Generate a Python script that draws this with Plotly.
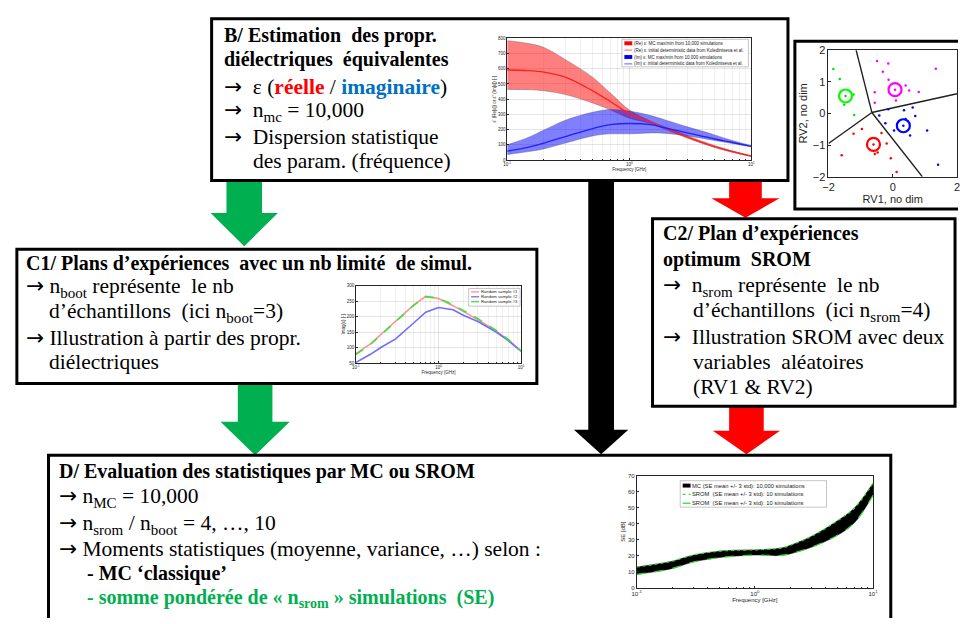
import plotly.graph_objects as go

W, H = 963, 624

# ---------------- data: inset B (equivalent dielectric properties) ----------------
freq_b = [0.1, 0.15, 0.2, 0.3, 0.5, 0.7, 1.0, 1.5, 2, 3, 5, 7, 10]
re_upper = [785, 766, 740, 660, 545, 440, 329, 255, 215, 160, 95, 60, 28]
re_mean = [592, 588, 578, 545, 455, 385, 305, 250, 207, 150, 88, 55, 26]
re_lower = [464, 462, 455, 430, 375, 330, 275, 240, 200, 143, 82, 50, 22]
im_upper = [100, 150, 197, 262, 314, 332, 322, 292, 262, 218, 165, 128, 94]
im_mean = [58, 85, 111, 154, 207, 232, 240, 232, 210, 178, 138, 115, 90]
im_lower = [36, 55, 73, 111, 158, 172, 172, 178, 175, 158, 128, 108, 86]
legend_b = ["(Re) ε: MC max/min from 10,000 simulations",
            "(Re) ε: initial deterministic data from Koledintseva et al.",
            "(Im) ε: MC max/min from 10,000 simulations",
            "(Im) ε: initial deterministic data from Koledintseva et al."]

# ---------------- data: inset C1 (random samples) ----------------
freq_c1 = [0.1, 0.15, 0.2, 0.3, 0.5, 0.7, 1.0, 1.5, 2, 3, 5, 7, 10]
sample1 = [80, 112, 142, 184, 237, 265, 258, 235, 216, 190, 153, 125, 88]
sample2 = [52, 78, 100, 127, 179, 214, 229, 222, 204, 184, 150, 122, 88]
sample3 = [77, 110, 140, 183, 236, 264, 259, 238, 220, 193, 155, 126, 88]
legend_c1 = ["Random sample #1", "Random sample #2", "Random sample #3"]

# ---------------- data: inset C2 (SROM, two random variables) ----------------
green_x = [-1.85, -1.65, -1.22, -1.51, -1.20, -1.47]
green_y = [1.40, 1.09, 0.60, 0.27, -0.05, 0.55]
magenta_x = [-0.49, -0.14, -0.31, -0.13, -0.56, -0.56, 0.10, 0.40, 0.51, 0.81, 1.34, 0.07]
magenta_y = [1.66, 1.58, 1.32, 1.06, 0.67, 0.34, 0.41, 0.88, 0.72, 0.68, 1.41, 0.75]
blue_x = [-0.42, -0.14, -0.23, 0.35, 0.62, 0.70, 0.40, 0.54, 0.04, 1.07, 1.41, 0.33]
blue_y = [-0.07, 0.13, -0.31, 0.10, 0.19, -0.08, -0.18, -0.70, -0.54, -0.54, -1.62, -0.39]
red_x = [-1.22, -0.96, -0.35, -0.19, -1.59, -0.47, -0.56, -0.06, 0.12, -0.60]
red_y = [-0.64, -0.49, -0.62, -0.95, -1.32, -1.24, -1.28, -1.42, -1.85, -0.98]
centers_x = [-1.47, 0.07, 0.33, -0.60]
centers_y = [0.55, 0.75, -0.39, -0.98]
centers_col = ["#00FF00", "#FF00FF", "#0000FF", "#FF0000"]
voronoi_x = [-0.65, -1.14, None, -0.65, 2.0, None, -0.65, 0.92, None, -0.65, -2.0]
voronoi_y = [0.03, 2.0, None, 0.03, 0.62, None, 0.03, -2.0, None, 0.03, -0.95]

# ---------------- data: inset D (shielding effectiveness) ----------------
freq_d = [0.1, 0.15, 0.2, 0.3, 0.5, 0.7, 1.0, 1.3, 1.5, 1.8, 2, 3, 5, 7, 10]
se_upper = [12.9, 14.8, 16.5, 20.3, 22.8, 23.4, 23.6, 24.0, 24.3, 25.3, 26.5, 32.0, 41.8, 50.0, 65.3]
se_lower = [8.3, 10.2, 12.0, 16.0, 18.8, 19.8, 20.4, 20.2, 20.0, 20.5, 21.2, 25.2, 32.8, 40.8, 57.8]
legend_d = ["MC (SE mean +/- 3 std): 10,000 simulations",
            "SROM  (SE mean +/- 3 std): 10 simulations",
            "SROM  (SE mean +/- 3 std): 10 simulations"]

decade_vals = [0.1, 1, 10]
decade_text = ["10<sup>-1</sup>", "10<sup>0</sup>", "10<sup>1</sup>"]
minor_vals = [0.2, 0.3, 0.4, 0.5, 0.6, 0.7, 0.8, 0.9, 2, 3, 4, 5, 6, 7, 8, 9]

SERIF = "Liberation Serif, Times New Roman, Tinos, serif"
SANS = "Liberation Sans, Arial, sans-serif"
GREEN = "#00B050"
ARR = "<span style='font-family:DejaVu Sans'>→</span>"


def xdom(a, b):
    return [a / W, b / W]


def ydom(top, bottom):
    return [1 - bottom / H, 1 - top / H]


fig = go.Figure()

# ---- inset B traces ----
band_edge = dict(color="rgba(80,80,80,0.7)", width=0.5)
fig.add_trace(go.Scatter(x=freq_b, y=re_lower, mode="lines", line=dict(shape="spline", **band_edge),
                         xaxis="x2", yaxis="y2", showlegend=False))
fig.add_trace(go.Scatter(x=freq_b, y=re_upper, mode="lines", line=dict(shape="spline", **band_edge),
                         fill="tonexty", fillcolor="rgba(255,0,0,0.5)", xaxis="x2", yaxis="y2", showlegend=False))
fig.add_trace(go.Scatter(x=freq_b, y=im_lower, mode="lines", line=dict(shape="spline", **band_edge),
                         xaxis="x2", yaxis="y2", showlegend=False))
fig.add_trace(go.Scatter(x=freq_b, y=im_upper, mode="lines", line=dict(shape="spline", **band_edge),
                         fill="tonexty", fillcolor="rgba(0,0,255,0.5)", xaxis="x2", yaxis="y2", showlegend=False))
fig.add_trace(go.Scatter(x=freq_b, y=re_mean, mode="lines", line=dict(shape="spline", color="#FF2020", width=1.3),
                         xaxis="x2", yaxis="y2", showlegend=False))
fig.add_trace(go.Scatter(x=freq_b, y=im_mean, mode="lines", line=dict(shape="spline", color="#2020FF", width=1.3),
                         xaxis="x2", yaxis="y2", showlegend=False))

# ---- inset C1 traces ----
fig.add_trace(go.Scatter(x=freq_c1, y=sample1, mode="lines", line=dict(color="#FF9090", width=1.6),
                         xaxis="x4", yaxis="y4", showlegend=False))
fig.add_trace(go.Scatter(x=freq_c1, y=sample2, mode="lines", line=dict(color="#6E6EFF", width=1.6),
                         xaxis="x4", yaxis="y4", showlegend=False))
fig.add_trace(go.Scatter(x=freq_c1, y=sample3, mode="lines", line=dict(color="#40E040", width=1.6, dash="dash"),
                         xaxis="x4", yaxis="y4", showlegend=False))

# ---- inset C2 traces ----
fig.add_trace(go.Scatter(x=voronoi_x, y=voronoi_y, mode="lines", line=dict(color="#202020", width=1.4),
                         xaxis="x3", yaxis="y3", showlegend=False))
for xs, ys, col in [(green_x, green_y, "#00E000"), (magenta_x, magenta_y, "#FF00FF"),
                    (blue_x, blue_y, "#0000FF"), (red_x, red_y, "#FF0000")]:
    fig.add_trace(go.Scatter(x=xs, y=ys, mode="markers", marker=dict(color=col, size=2.5),
                             xaxis="x3", yaxis="y3", showlegend=False))
fig.add_trace(go.Scatter(x=centers_x, y=centers_y, mode="markers",
                         marker=dict(symbol="circle-open", size=13, color=centers_col, line=dict(width=2.2)),
                         xaxis="x3", yaxis="y3", showlegend=False))

# ---- inset D traces ----
fig.add_trace(go.Scatter(x=freq_d, y=se_lower, mode="lines", line=dict(shape="spline", color="black", width=0.5),
                         xaxis="x5", yaxis="y5", showlegend=False))
fig.add_trace(go.Scatter(x=freq_d, y=se_upper, mode="lines", line=dict(shape="spline", color="black", width=0.5),
                         fill="tonexty", fillcolor="black", xaxis="x5", yaxis="y5", showlegend=False))
fig.add_trace(go.Scatter(x=freq_d, y=se_upper, mode="lines",
                         line=dict(shape="spline", color="#30E030", width=1.2, dash="dot"),
                         xaxis="x5", yaxis="y5", showlegend=False))
fig.add_trace(go.Scatter(x=freq_d, y=se_lower, mode="lines",
                         line=dict(shape="spline", color="#30E030", width=1.2, dash="dash"),
                         xaxis="x5", yaxis="y5", showlegend=False))

# ---------------- diagram shapes (pixel coordinates on the hidden main axes) ----------------
shapes = []


def arrow(xc, ytop, yhead, ytip, shaft, head, color):
    p = (f"M {xc-shaft},{ytop} L {xc+shaft},{ytop} L {xc+shaft},{yhead} L {xc+head},{yhead} "
         f"L {xc},{ytip} L {xc-head},{yhead} L {xc-shaft},{yhead} Z")
    shapes.append(dict(type="path", path=p, xref="x", yref="y", fillcolor=color,
                       line=dict(width=0), layer="below"))


arrow(241, 178, 211, 245, 18, 34, GREEN)
arrow(252, 385, 424, 458, 17.5, 35, GREEN)
arrow(602, 178, 432, 457, 13, 27.5, "black")
arrow(748, 178, 196, 216, 16.5, 34.5, "#FF0000")
arrow(749, 408, 433, 457, 17.5, 34, "#FF0000")


def box(x0, y0, x1, y1):
    shapes.append(dict(type="rect", x0=x0, y0=y0, x1=x1, y1=y1, xref="x", yref="y",
                       fillcolor="white", line=dict(color="black", width=3), layer="below"))


box(208, 13, 791, 178)       # B
box(798, 36, 975, 207)       # scatter inset frame
box(11, 248, 537, 385)       # C1
box(654, 217, 960, 408)      # C2
box(43, 458, 895, 640)       # D

annotations = []


def txt(x, y, s, size=21.5, family=SERIF, color="black"):
    annotations.append(dict(x=x - 2, y=y - 2, xref="x", yref="y", text=s, showarrow=False,
                            xanchor="left", yanchor="middle",
                            font=dict(family=family, size=size, color=color)))


TB = 20  # bold title size

# B text
txt(220, 32, "<b>B/ Estimation\u00a0 des propr.</b>", TB)
txt(220, 57, "<b>diélectriques\u00a0 équivalentes</b>", TB)
txt(220, 84, ARR + "\u00a0 ε (<b><span style='color:#FF0000'>réelle</span></b> / "
             "<b><span style='color:#0070C0'>imaginaire</span></b>)")
txt(220, 109, ARR + "\u00a0 n<sub>mc</sub> = 10,000")
txt(220, 135, ARR + "\u00a0 Dispersion statistique")
txt(250, 160, "des param. (fréquence)")

# C1 text
txt(20, 265, "<b>C1/ Plans d’expériences\u00a0 avec un nb limité\u00a0 de simul.</b>", TB)
txt(20, 288, ARR + " n<sub>boot</sub> représente\u00a0 le nb")
txt(43, 314, "d’échantillons\u00a0 (ici n<sub>boot</sub>=3)")
txt(20, 340, ARR + " Illustration à partir des propr.")
txt(43, 365, "diélectriques")

# C2 text
txt(665, 234, "<b>C2/ Plan d’expériences</b>", TB)
txt(665, 260, "<b>optimum\u00a0 SROM</b>", TB)
txt(665, 287, ARR + "\u00a0 n<sub>srom</sub> représente\u00a0 le nb")
txt(695, 313, "d’échantillons\u00a0 (ici n<sub>srom</sub>=4)")
txt(665, 339, ARR + "\u00a0 Illustration SROM avec deux")
txt(695, 365, "variables\u00a0 aléatoires")
txt(695, 390, "(RV1 &amp; RV2)")

# D text
txt(54, 477, "<b>D/ Evaluation des statistiques par MC ou SROM</b>", TB)
txt(54, 503, ARR + " n<sub>MC</sub> = 10,000")
txt(54, 530, ARR + " n<sub>srom</sub> / n<sub>boot</sub> = 4, …, 10")
txt(54, 555, ARR + " Moments statistiques (moyenne, variance, …) selon :")
txt(82, 581, "<b>- MC ‘classique’</b>", TB)
txt(82, 606, f"<b><span style='color:{GREEN}'>- somme pondérée de « n<sub>srom</sub> » simulations\u00a0 (SE)</span></b>", TB)


# ---------------- manual mini legends ----------------
def legend(x0, y0, x1, y1, rows, labels, size, items):
    shapes.append(dict(type="rect", x0=x0, y0=y0, x1=x1, y1=y1, xref="x", yref="y",
                       fillcolor="white", line=dict(color="#A0A0A0", width=0.6), layer="above"))
    for ry, lab, (kind, col, dash) in zip(rows, labels, items):
        sx0, sx1 = x0 + 2.5, x0 + 10.5
        if kind == "patch":
            shapes.append(dict(type="rect", x0=sx0, x1=sx1, y0=ry - 2, y1=ry + 2, xref="x", yref="y",
                               fillcolor=col, line=dict(width=0), layer="above"))
        else:
            shapes.append(dict(type="line", x0=sx0, x1=sx1, y0=ry, y1=ry, xref="x", yref="y",
                               line=dict(color=col, width=1.3, dash=dash), layer="above"))
        annotations.append(dict(x=sx1 + 0.5, y=ry, xref="x", yref="y", text=lab, showarrow=False,
                                xanchor="left", yanchor="middle", borderpad=0,
                                font=dict(family=SANS, size=size, color="#202020")))


legend(623, 34, 751, 62, [38, 45, 52, 59], legend_b, 4.5,
       [("patch", "#FF0000", "solid"), ("line", "#FF8080", "solid"),
        ("patch", "#0000FF", "solid"), ("line", "#8080FF", "solid")])
legend(468, 288, 520, 306, [291.5, 296.5, 301.5], legend_c1, 4.2,
       [("line", "#FF9090", "solid"), ("line", "#6E6EFF", "solid"), ("line", "#40E040", "dash")])
legend(682, 484, 830, 511, [489, 498, 507], legend_d, 5.8,
       [("patch", "black", "solid"), ("line", "#30E030", "dot"), ("line", "#30E030", "dash")])

# ---------------- axes ----------------
axcol = "#262626"
grid = "rgba(0,0,0,0.10)"


def log_x(dom, anchor, size, grid_on):
    return dict(type="log", domain=dom, anchor=anchor, range=[-1, 1], tickvals=decade_vals,
                ticktext=decade_text, tickfont=dict(family=SANS, size=size, color=axcol),
                showline=True, linecolor=axcol, linewidth=0.6, mirror=True, ticks="inside",
                ticklen=2, tickcolor=axcol, showgrid=grid_on, gridcolor=grid, gridwidth=0.5,
                zeroline=False,
                minor=dict(tickvals=minor_vals, ticks="inside", ticklen=1, tickcolor=axcol,
                           showgrid=grid_on, gridcolor="rgba(0,0,0,0.06)", gridwidth=0.5),
                title=dict(text="Frequency [GHz]", font=dict(family=SANS, size=size, color=axcol),
                           standoff=1))


def lin_y(dom, anchor, rng, dtick, size, grid_on, title):
    return dict(domain=dom, anchor=anchor, range=rng, dtick=dtick,
                tickfont=dict(family=SANS, size=size, color=axcol),
                showline=True, linecolor=axcol, linewidth=0.6, mirror=True, ticks="inside",
                ticklen=2, tickcolor=axcol, showgrid=grid_on, gridcolor=grid, gridwidth=0.5,
                zeroline=False,
                title=dict(text=title, font=dict(family=SANS, size=size, color=axcol), standoff=1))


layout = dict(
    width=W, height=H, margin=dict(l=0, r=0, t=0, b=0),
    paper_bgcolor="white", plot_bgcolor="rgba(0,0,0,0)", showlegend=False,
    xaxis=dict(domain=[0, 1], range=[0, W], visible=False, fixedrange=True),
    yaxis=dict(domain=[0, 1], range=[H, 0], visible=False, fixedrange=True),
    xaxis2=log_x(xdom(507, 754), "y2", 4.5, True),
    yaxis2=lin_y(ydom(33, 157), "x2", [0, 800], 100, 4.5, True, "ε' (Re[ε]) or ε'' (Im[ε]) [-]"),
    xaxis3=dict(domain=xdom(832, 962), anchor="y3", range=[-2, 2], tickvals=[-2, 0, 2],
                tickfont=dict(family=SANS, size=11, color=axcol), showline=True, linecolor=axcol,
                linewidth=0.8, mirror=True, ticks="inside", ticklen=3, tickcolor=axcol,
                showgrid=False, zeroline=False,
                title=dict(text="RV1, no dim", font=dict(family=SANS, size=11, color=axcol), standoff=2)),
    yaxis3=dict(domain=ydom(45, 174), anchor="x3", range=[-2, 2], tickvals=[-2, -1, 0, 1, 2],
                tickfont=dict(family=SANS, size=11, color=axcol), showline=True, linecolor=axcol,
                linewidth=0.8, mirror=True, ticks="inside", ticklen=3, tickcolor=axcol,
                showgrid=False, zeroline=False,
                title=dict(text="RV2, no dim", font=dict(family=SANS, size=11, color=axcol), standoff=2)),
    xaxis4=log_x(xdom(354, 521), "y4", 4.5, True),
    yaxis4=lin_y(ydom(285, 364), "x4", [50, 300], 50, 4.5, True, "Imag(ε) [-]"),
    xaxis5=log_x(xdom(638, 877), "y5", 6, False),
    yaxis5=lin_y(ydom(479, 593), "x5", [0, 70], 10, 6, False, "SE [dB]"),
    shapes=shapes, annotations=annotations,
)
fig.update_layout(**layout)

fig.write_html("out.html", config={"displayModeBar": False},
               post_script="document.body.style.margin='0';")
